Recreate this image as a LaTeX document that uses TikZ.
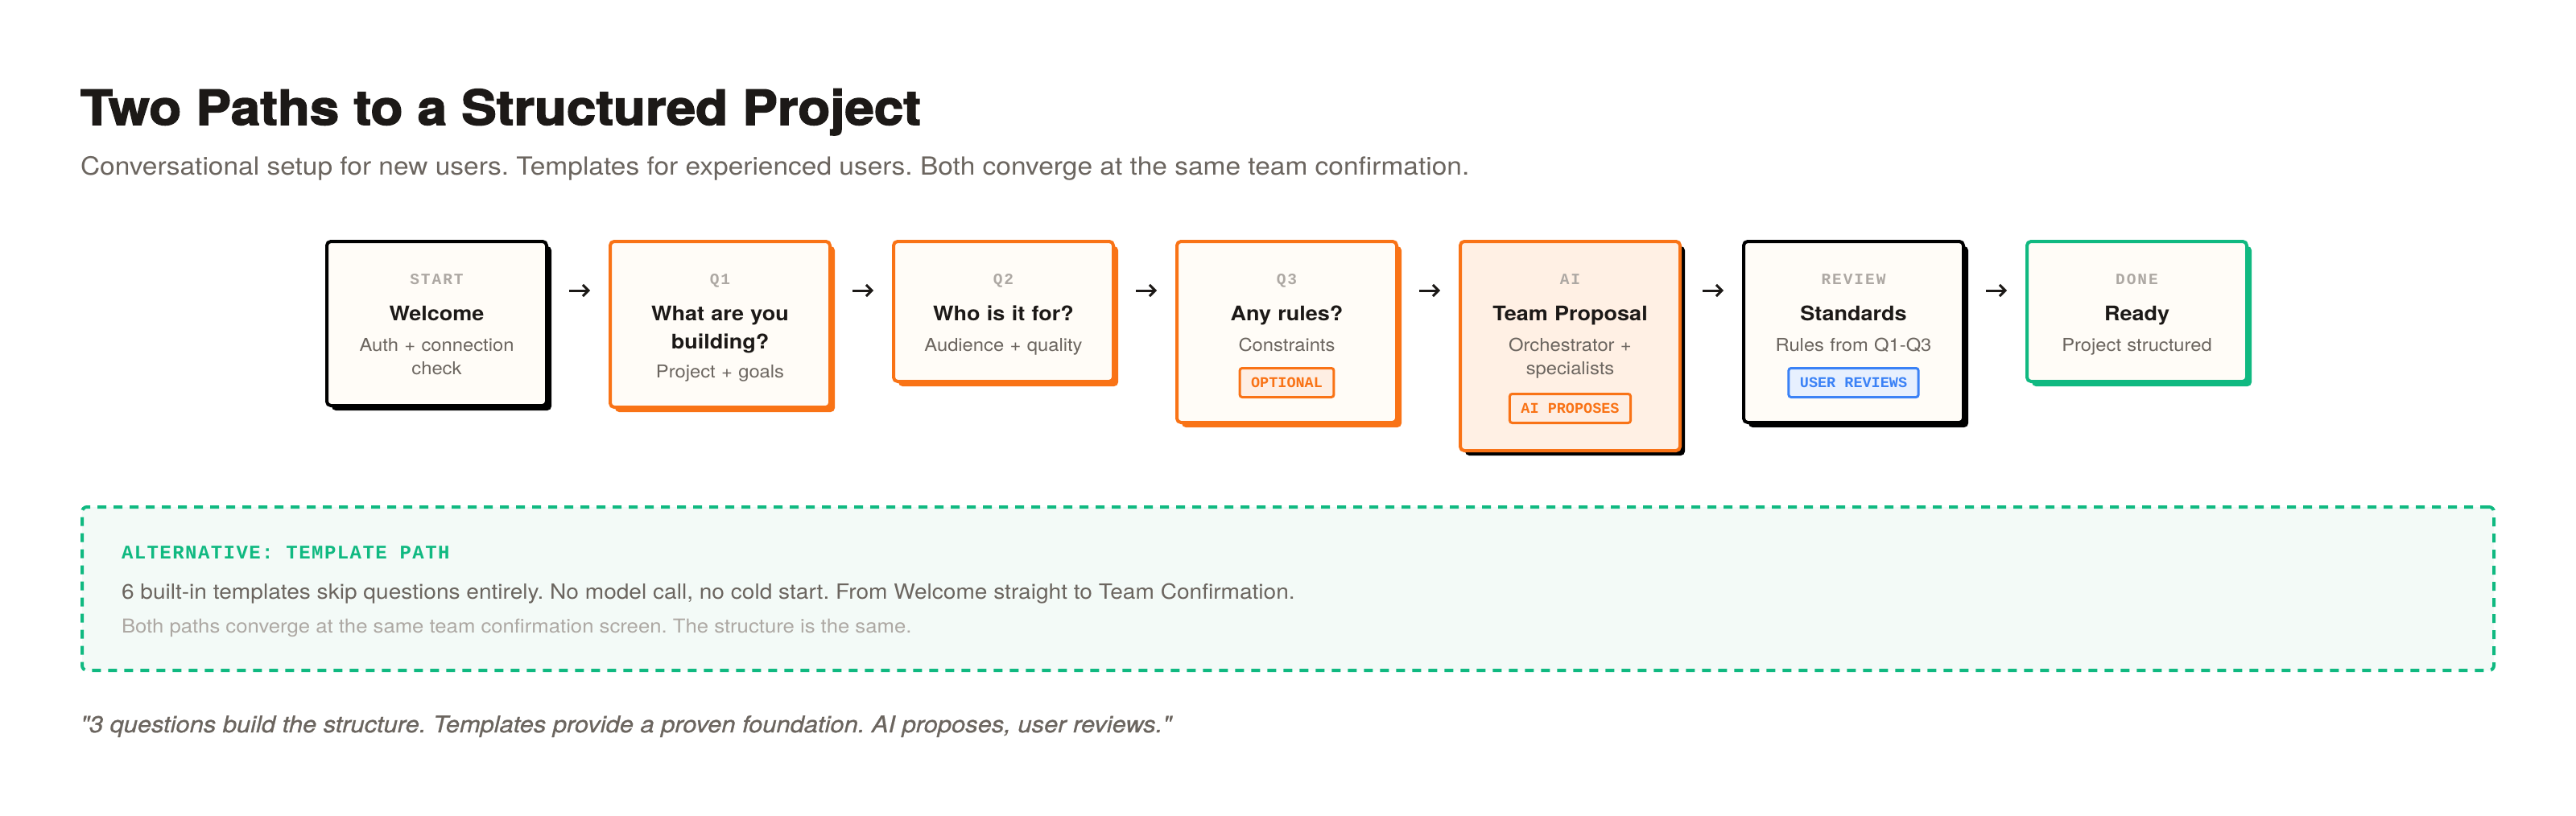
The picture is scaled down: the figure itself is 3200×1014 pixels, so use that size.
\documentclass[tikz,border=0pt]{standalone}
\usepackage{fontspec}
\setmainfont{TeX Gyre Heros}[FakeStretch=1.08]
\newfontfamily\headfont{texgyreheros-bold.otf}[FakeStretch=1.09, FakeBold=2.5]
\newfontfamily\quotefont{texgyreheros-italic.otf}[FakeStretch=1.08, FakeBold=0.8]
\newfontfamily\tagfont{Liberation Mono}[LetterSpace=10]
\newfontfamily\altfont{Liberation Mono}[LetterSpace=6]
\newfontfamily\badgefont{Liberation Mono}
\frenchspacing
\usepackage{tikz}
\usetikzlibrary{
  arrows.meta,
  calc,
  shadows
}
\definecolor{ink}{HTML}{1C1917}
\definecolor{muted}{HTML}{6B655F}
\definecolor{faint}{HTML}{ADA8A3}
\definecolor{cream}{HTML}{FFFCF7}
\definecolor{accent}{HTML}{F97316}
\definecolor{aitint}{HTML}{FFF0E4}
\definecolor{done}{HTML}{10B981}
\definecolor{alttint}{HTML}{F3FAF7}
\definecolor{review}{HTML}{3B82F6}

\begin{document}
\begin{tikzpicture}[
  x=1pt, y=-1pt,
  every node/.style={inner sep=0pt, outer sep=0pt},
  card/.style 2 args={draw=#1, fill=cream, line width=4pt, rounded corners=5pt,
    minimum width=273pt, anchor=north west,
    drop shadow={shadow xshift=6pt, shadow yshift=-6pt, opacity=1, fill=#2}},
  tag/.style={font=\tagfont\bfseries\fontsize{19.5}{20}\selectfont, text=faint, anchor=base},
  head/.style={font=\bfseries\fontsize{25}{35}\selectfont, text=ink, text width=250pt, align=center, anchor=base},
  desc/.style={font=\fontsize{22}{29}\selectfont, text=muted, text width=250pt, align=center, anchor=base},
  badge/.style={draw=#1, fill=#1!12, text=#1, line width=3pt, rounded corners=3pt,
    font=\badgefont\bfseries\fontsize{18.5}{19}\selectfont, inner xsep=14pt, minimum height=36pt},
  flow/.style={-{Straight Barb[length=7pt, width=14pt]}, line width=3pt, ink,
    shorten <=28pt, shorten >=25pt},
  altbox/.style={draw=done, fill=alttint, line width=4pt, dash pattern=on 11pt off 9pt,
    rounded corners=6pt, anchor=north west}
]
\useasboundingbox[fill=white] (0,0) rectangle (3200,1014);

% heading
\node[anchor=base west, font=\headfont\fontsize{60}{60}\selectfont, text=ink] (title) at (100,155)
  {Two Paths to a Structured Project};
\node[anchor=base west, font=\fontsize{31}{31}\selectfont, text=muted] (subtitle) at (100,217)
  {Conversational setup for new users. Templates for experienced users. Both converge at the same team confirmation.};

% conversational path
\node[card={black}{black}, minimum height=204pt] (welcome) at (406,300) {};
\node[tag] (welcomeTag) at (542.5,353) {START};
\node[head] (welcomeHead) at (542.5,398) {Welcome};
\node[desc] (welcomeDesc) at (542.5,436) {Auth + connection\\check};

\node[card={accent}{accent}, minimum height=206pt] (what) at (758,300) {};
\node[tag] (whatTag) at (894.5,353) {Q1};
\node[head] (whatHead) at (894.5,398) {What are you\\building?};
\node[desc] (whatDesc) at (894.5,469) {Project + goals};

\node[card={accent}{accent}, minimum height=174pt] (who) at (1110,300) {};
\node[tag] (whoTag) at (1246.5,353) {Q2};
\node[head] (whoHead) at (1246.5,398) {Who is it for?};
\node[desc] (whoDesc) at (1246.5,436) {Audience + quality};

\node[card={accent}{accent}, minimum height=225pt] (rules) at (1462,300) {};
\node[tag] (rulesTag) at (1598.5,353) {Q3};
\node[head] (rulesHead) at (1598.5,398) {Any rules?};
\node[desc] (rulesDesc) at (1598.5,436) {Constraints};
\node[badge=accent] (rulesBadge) at (1598.5,475.5) {OPTIONAL};

\node[card={accent}{black}, fill=aitint, minimum height=260pt] (team) at (1814,300) {};
\node[tag] (teamTag) at (1950.5,353) {AI};
\node[head] (teamHead) at (1950.5,398) {Team Proposal};
\node[desc] (teamDesc) at (1950.5,436) {Orchestrator +\\specialists};
\node[badge=accent] (teamBadge) at (1950.5,507.5) {AI PROPOSES};

\node[card={black}{black}, minimum height=225pt] (standards) at (2166,300) {};
\node[tag] (standardsTag) at (2302.5,353) {REVIEW};
\node[head] (standardsHead) at (2302.5,398) {Standards};
\node[desc] (standardsDesc) at (2302.5,436) {Rules from Q1-Q3};
\node[badge=review] (standardsBadge) at (2302.5,475.5) {USER REVIEWS};

\node[card={done}{done}, minimum height=174pt] (ready) at (2518,300) {};
\node[tag] (readyTag) at (2654.5,353) {DONE};
\node[head] (readyHead) at (2654.5,398) {Ready};
\node[desc] (readyDesc) at (2654.5,436) {Project structured};

\foreach \a/\b in {welcome/what, what/who, who/rules, rules/team, team/standards, standards/ready}
  \draw[flow] ($(\a.north east)+(0,61)$) -- ($(\b.north west)+(0,61)$);

% template path
\node[altbox, minimum width=2996pt, minimum height=203pt] (alt) at (102,630) {};
\node[anchor=base west, font=\altfont\bfseries\fontsize{24}{24}\selectfont, text=done] (altLabel) at (151,694)
  {ALTERNATIVE: TEMPLATE PATH};
\node[anchor=base west, font=\fontsize{26}{26}\selectfont, text=muted] (altBody) at (151,744)
  {6 built-in templates skip questions entirely. No model call, no cold start. From Welcome straight to Team Confirmation.};
\node[anchor=base west, font=\fontsize{23.8}{24}\selectfont, text=faint] (altNote) at (151,786)
  {Both paths converge at the same team confirmation screen. The structure is the same.};

\node[anchor=base west, font=\quotefont\fontsize{28.6}{29}\selectfont, text=muted] (quote) at (100,910)
  {"3 questions build the structure. Templates provide a proven foundation. AI proposes, user reviews."};

\end{tikzpicture}
\end{document}
